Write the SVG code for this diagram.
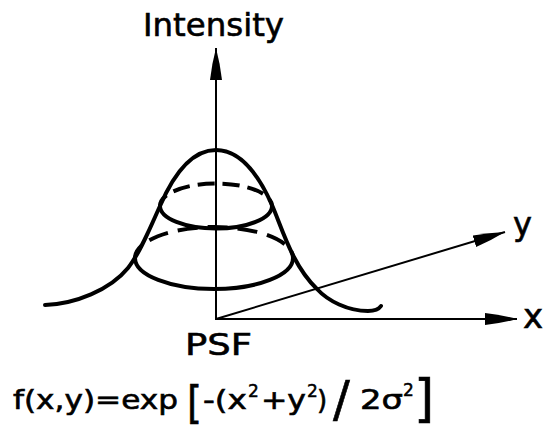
<svg xmlns="http://www.w3.org/2000/svg" width="546" height="429" viewBox="0 0 546 429">
  <style>
    .t { font-family: "DejaVu Sans", "Liberation Sans", sans-serif; fill: #000; stroke: #000; stroke-width: 0.6; }
    .f { font-size: 26px; }
    .sup { font-size: 17px; stroke-width: 0.5; }
    .ax { stroke: #000; stroke-width: 2; fill: none; }
    .thick { stroke: #000; stroke-width: 4; fill: none; stroke-linecap: round; }
    .dash1 { stroke: #000; stroke-width: 4; fill: none; stroke-dasharray: 17 8; stroke-dashoffset: 4; }
    .dash2 { stroke: #000; stroke-width: 4; fill: none; stroke-dasharray: 20 10; stroke-dashoffset: 6; }
  </style>
  <defs>
    <marker id="arrow" markerUnits="userSpaceOnUse" viewBox="0 0 32 12" markerWidth="32" markerHeight="12" refX="32" refY="6" orient="auto">
      <path d="M0,0 Q16,1.8 32,6 Q16,10.2 0,12 Z" fill="#000"/>
    </marker>
  </defs>
  <rect width="546" height="429" fill="#fff"/>

  <g id="connectors">
    <line class="ax" x1="216" y1="320" x2="216" y2="48" marker-end="url(#arrow)"/>
    <line class="ax" x1="215" y1="319" x2="517" y2="319" marker-end="url(#arrow)"/>
    <line class="ax" x1="216" y1="319" x2="505" y2="232" marker-end="url(#arrow)"/>
  </g>

  <g id="psf-curve">
    <path class="thick" d="M45,305 C75,304 110,290 128,268 C140,253 150,228 160,206 C172,178 190,150 216,150 C242,150 260,178 272,205 C282,228 292,265 317,289 C328,301 348,311 368,311 C375,311 379,309 381,306"/>
  </g>

  <g id="upper-ring">
    <path class="thick" d="M160,206 A56,22.5 0 0 0 272,206"/>
    <path class="dash1" d="M160,206 A56,22.5 0 0 1 272,206"/>
  </g>

  <g id="lower-ring">
    <path class="thick" d="M135,258 A79,31 0 0 0 293,258"/>
    <path class="dash2" d="M135,258 A79,31 0 0 1 293,258"/>
  </g>

  <g id="label-intensity">
    <text class="t" x="143" y="36" font-size="32" textLength="141" lengthAdjust="spacingAndGlyphs">Intensity</text>
  </g>
  <g id="label-x">
    <text class="t" x="523" y="328" font-size="34">x</text>
  </g>
  <g id="label-y">
    <text class="t" x="513" y="235" font-size="32">y</text>
  </g>
  <g id="label-psf">
    <text class="t" x="185" y="355" font-size="30" textLength="67" lengthAdjust="spacingAndGlyphs">PSF</text>
  </g>

  <g id="formula">
    <text class="t f" x="13" y="409" textLength="165" lengthAdjust="spacingAndGlyphs">f(x,y)=exp</text>
    <text class="t" x="187" y="418" font-size="44" textLength="15" lengthAdjust="spacingAndGlyphs">[</text>
    <text class="t f" x="203" y="409" textLength="44" lengthAdjust="spacingAndGlyphs">-(x</text>
    <text class="t sup" x="248" y="397">2</text>
    <text class="t f" x="261" y="409" textLength="45" lengthAdjust="spacingAndGlyphs">+y</text>
    <text class="t sup" x="307" y="397">2</text>
    <text class="t f" x="317" y="409">)</text>
    <text class="t" x="333" y="416" font-size="50">/</text>
    <text class="t f" x="360" y="409" textLength="43" lengthAdjust="spacingAndGlyphs">2σ</text>
    <text class="t sup" x="403" y="396">2</text>
    <text class="t" x="414" y="416" font-size="52">]</text>
  </g>
</svg>
